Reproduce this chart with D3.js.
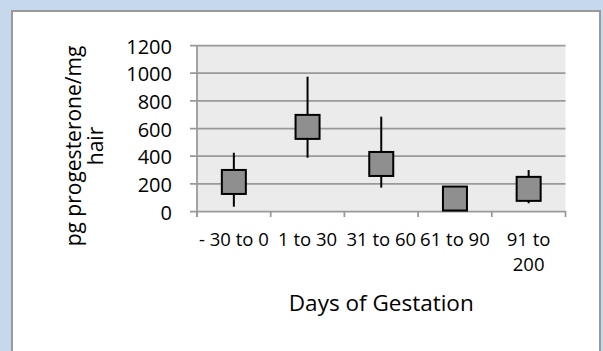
<!DOCTYPE html>
<html>
<head>
<meta charset="utf-8">
<script src="https://cdn.jsdelivr.net/npm/d3@7"></script>
<style>
  html, body { margin: 0; padding: 0; background: #c6d9ec; }
  svg { display: block; }
  text { font-family: "Open Sans", sans-serif; fill: #000; }
</style>
</head>
<body>
<div id="chart"></div>
<script>
// Data
const categories = ["- 30 to 0", "1 to 30", "31 to 60", "61 to 90", "91 to 200"]
const tickLines = [["- 30 to 0"], ["1 to 30"], ["31 to 60"], ["61 to 90"], ["91 to", "200"]]
const means = [210, 608, 340, 90, 160]
const upper = [421, 971, 682, null, 296]
const lower = [31, 385, 169, null, 56]
const yTicks = [0, 200, 400, 600, 800, 1000, 1200]

function draw() {
  // Dimensions
  let dimensions = {
    width: 603,
    height: 351,
    left: 197,
    right: 565.5,
    top: 45,
    bottom: 211,
    marker: 24
  }

  const svg = d3.select('#chart')
    .append("svg")
    .attr("width", dimensions.width)
    .attr("height", dimensions.height)

  // white chart panel
  svg.append("rect")
    .attr("x", 12)
    .attr("y", 11)
    .attr("width", 588)
    .attr("height", 360)
    .attr("fill", "#fff")
    .attr("stroke", "#9a9a9a")
    .attr("stroke-width", 2)

  // Scales
  const xScale = d3.scaleBand()
    .domain(categories)
    .range([dimensions.left, dimensions.right])

  const yScale = d3.scaleLinear()
    .domain([0, 1200])
    .range([dimensions.bottom, dimensions.top])

  // plot area
  svg.append("rect")
    .attr("x", dimensions.left)
    .attr("y", dimensions.top)
    .attr("width", dimensions.right - dimensions.left)
    .attr("height", dimensions.bottom - dimensions.top)
    .attr("fill", "#ebebeb")

  // gridlines + y axis
  const yAxis = d3.axisLeft(yScale)
    .tickValues(yTicks)
    .tickFormat(d3.format("d"))
    .tickSize(7)
    .tickPadding(18)
  const yAxisGroup = svg.append("g")
    .attr("transform", `translate(${dimensions.left},0)`)
    .call(yAxis)
  yAxisGroup.select(".domain").remove()
  yAxisGroup.selectAll(".tick line")
    .attr("x2", -7)
    .attr("x1", dimensions.right - dimensions.left)
    .attr("stroke", "#999")
    .attr("stroke-width", 1.75)
  yAxisGroup.selectAll(".tick text")
    .attr("font-size", 20)
    .attr("dy", "0.4em")
    .attr("font-family", "'Open Sans', sans-serif")

  // y axis line
  svg.append("line")
    .attr("x1", dimensions.left)
    .attr("x2", dimensions.left)
    .attr("y1", dimensions.top)
    .attr("y2", dimensions.bottom + 6)
    .attr("stroke", "#999")
    .attr("stroke-width", 1.75)

  // x axis ticks between categories
  const bounds = categories.map(c => xScale(c)).concat([dimensions.right])
  svg.append("g")
    .selectAll("line")
    .data(bounds)
    .join("line")
    .attr("x1", d => d)
    .attr("x2", d => d)
    .attr("y1", dimensions.bottom)
    .attr("y2", dimensions.bottom + 6)
    .attr("stroke", "#999")
    .attr("stroke-width", 1.75)

  // x labels
  const xLabels = svg.append("g")
    .selectAll("text")
    .data(categories)
    .join("text")
    .attr("text-anchor", "middle")
    .attr("font-size", 18.5)
    .attr("x", d => xScale(d) + xScale.bandwidth() / 2)
    .attr("y", 246)
  xLabels.selectAll("tspan")
    .data((d, i) => tickLines[i])
    .join("tspan")
    .attr("x", function () { return d3.select(this.parentNode).attr("x") })
    .attr("dy", (d, i) => i === 0 ? 0 : 25)
    .text(d => d)

  // error bars
  const cx = i => xScale(categories[i]) + xScale.bandwidth() / 2
  svg.append("g")
    .selectAll("line")
    .data(means.map((m, i) => i).filter(i => upper[i] !== null))
    .join("line")
    .attr("x1", cx)
    .attr("x2", cx)
    .attr("y1", i => yScale(upper[i]))
    .attr("y2", i => yScale(lower[i]))
    .attr("stroke", "#000")
    .attr("stroke-width", 2)

  // markers
  svg.append("g")
    .selectAll("rect")
    .data(means)
    .join("rect")
    .attr("x", (d, i) => cx(i) - dimensions.marker / 2)
    .attr("y", d => yScale(d) - dimensions.marker / 2)
    .attr("width", dimensions.marker)
    .attr("height", dimensions.marker)
    .attr("fill", "#8f8f8f")
    .attr("stroke", "#000")
    .attr("stroke-width", 2)

  // axis titles
  svg.append("text")
    .attr("x", (dimensions.left + dimensions.right) / 2)
    .attr("y", 311)
    .attr("text-anchor", "middle")
    .attr("font-size", 22.5)
    .text("Days of Gestation")

  const yTitle = svg.append("text")
    .attr("transform", "translate(81,146) rotate(-90)")
    .attr("text-anchor", "middle")
    .attr("font-size", 21)
  yTitle.append("tspan").attr("x", 0).attr("dy", 0).text("pg progesterone/mg")
  yTitle.append("tspan").attr("x", 0).attr("dy", 22).text("hair")
}

draw()
</script>
</body>
</html>
